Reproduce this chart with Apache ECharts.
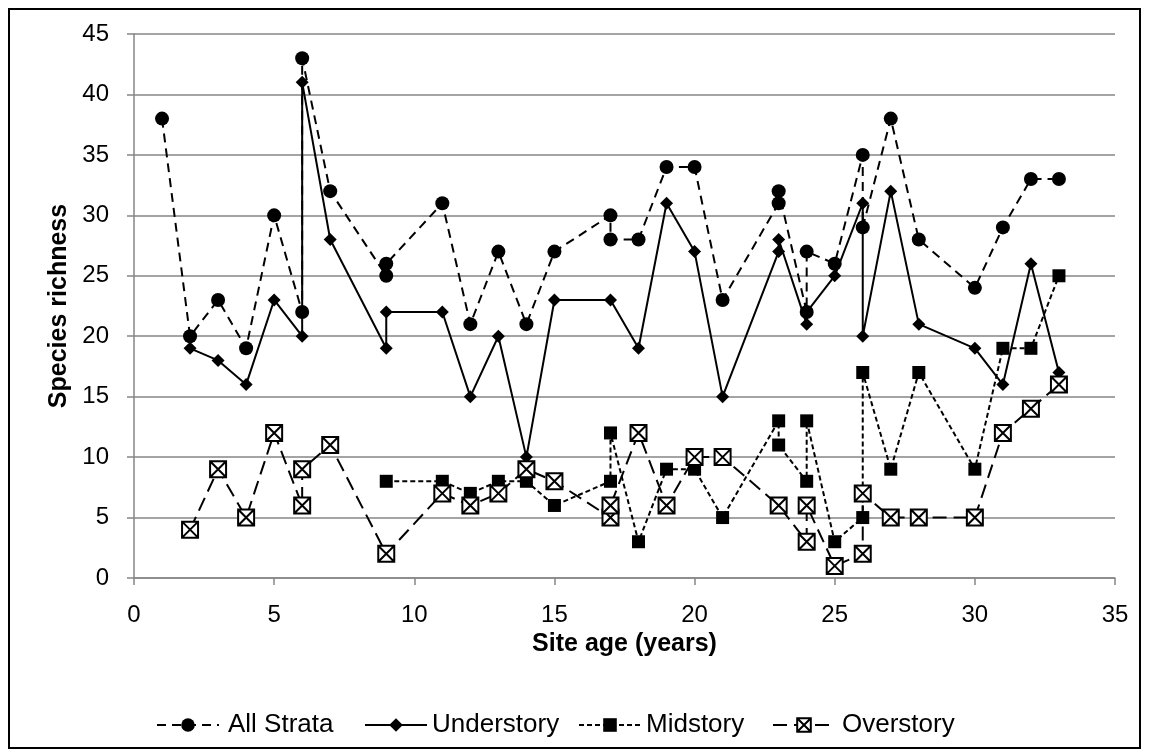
<!DOCTYPE html>
<html>
<head>
<meta charset="utf-8">
<script src="https://cdn.jsdelivr.net/npm/echarts@6/dist/echarts.min.js"></script>
<style>
html,body{margin:0;padding:0;background:#fff;}
#chart{width:1149px;height:756px;}
</style>
</head>
<body>
<div id="chart"></div>
<script>
// ---- data ----
const xTicks = [0, 5, 10, 15, 20, 25, 30, 35];
const yTicks = [0, 5, 10, 15, 20, 25, 30, 35, 40, 45];

const allStrataX = [1,2,3,4,5,6,6,7,9,9,11,12,13,14,15,17,17,18,19,20,21,23,23,24,24,25,26,26,27,28,30,31,32,33];
const allStrataY = [38,20,23,19,30,22,43,32,25,26,31,21,27,21,27,30,28,28,34,34,23,31,32,22,27,26,35,29,38,28,24,29,33,33];

const understoryX = [2,3,4,5,6,6,7,9,9,11,12,13,14,15,17,18,19,20,21,23,23,24,24,25,26,26,27,28,30,31,32,33];
const understoryY = [19,18,16,23,20,41,28,19,22,22,15,20,10,23,23,19,31,27,15,27,28,21,22,25,31,20,32,21,19,16,26,17];

const midstoryX = [9,11,12,13,14,15,17,17,18,19,20,21,23,23,24,24,25,26,26,27,28,30,31,32,33];
const midstoryY = [8,8,7,8,8,6,8,12,3,9,9,5,13,11,8,13,3,5,17,9,17,9,19,19,25];

const overstoryX = [2,3,4,5,6,6,7,9,11,12,13,14,15,17,17,18,19,20,21,23,24,24,25,26,26,27,28,30,31,32,33];
const overstoryY = [4,9,5,12,6,9,11,2,7,6,7,9,8,5,6,12,6,10,10,6,3,6,1,2,7,5,5,5,12,14,16];

const seriesNames = ['All Strata', 'Understory', 'Midstory', 'Overstory'];

function zip(xs, ys) { return xs.map((x, i) => [x, ys[i]]); }

const FONT = '"Liberation Sans", Arial, sans-serif';
const boxX = 'path://M0,0 L10,0 L10,10 L0,10 Z M0,0 L10,10 M10,0 L0,10';

const chart = echarts.init(document.getElementById('chart'), null, {renderer: 'canvas'});

function legendAt(name, left, pad) {
  return {
    data: [name],
    left: left,
    top: 707,
    itemWidth: 62,
    itemHeight: 17,
    selectedMode: false,
    textStyle: {fontFamily: FONT, fontSize: 26, color: '#000', padding: [0, 0, 0, pad]}
  };
}

const option = {
  backgroundColor: '#fff',
  animation: false,
  textStyle: {fontFamily: FONT},
  graphic: [{
    type: 'rect',
    shape: {x: 9, y: 9, width: 1131, height: 739},
    style: {fill: 'none', stroke: '#000', lineWidth: 2},
    silent: true
  }],
  grid: {left: 134, right: 34, top: 34, bottom: 178, containLabel: false},
  legend: [
    legendAt(seriesNames[0], 151, 4),
    legendAt(seriesNames[1], 359, 0),
    legendAt(seriesNames[2], 573, 0),
    legendAt(seriesNames[3], 767, 2)
  ],
  xAxis: {
    type: 'value',
    min: xTicks[0],
    max: xTicks[xTicks.length - 1],
    interval: 5,
    name: 'Site age (years)',
    nameLocation: 'middle',
    nameGap: 46,
    nameTextStyle: {fontFamily: FONT, fontSize: 25, fontWeight: 'bold', color: '#000'},
    axisLine: {show: true, lineStyle: {color: '#868686', width: 1.5}},
    axisTick: {show: true, length: 7, lineStyle: {color: '#868686', width: 1.5}},
    axisLabel: {fontFamily: FONT, fontSize: 24, color: '#000', margin: 25},
    splitLine: {show: false}
  },
  yAxis: {
    type: 'value',
    min: yTicks[0],
    max: yTicks[yTicks.length - 1],
    interval: 5,
    name: 'Species richness',
    nameLocation: 'middle',
    nameGap: 62,
    nameTextStyle: {fontFamily: FONT, fontSize: 25, fontWeight: 'bold', color: '#000'},
    axisLine: {show: true, lineStyle: {color: '#868686', width: 1.5}},
    axisTick: {show: true, length: 7, lineStyle: {color: '#868686', width: 1.5}},
    axisLabel: {fontFamily: FONT, fontSize: 24, color: '#000', margin: 25},
    splitLine: {show: true, lineStyle: {color: '#868686', width: 1.5}}
  },
  series: [
    {
      name: seriesNames[0], type: 'line', data: zip(allStrataX, allStrataY),
      symbol: 'circle', symbolSize: 14,
      itemStyle: {color: '#000'},
      lineStyle: {color: '#000', width: 2, type: [9, 6]}
    },
    {
      name: seriesNames[1], type: 'line', data: zip(understoryX, understoryY),
      symbol: 'diamond', symbolSize: 13,
      itemStyle: {color: '#000'},
      lineStyle: {color: '#000', width: 2, type: 'solid'}
    },
    {
      name: seriesNames[2], type: 'line', data: zip(midstoryX, midstoryY),
      symbol: 'rect', symbolSize: 13,
      itemStyle: {color: '#000'},
      lineStyle: {color: '#000', width: 2, type: [5, 3]}
    },
    {
      name: seriesNames[3], type: 'line', data: zip(overstoryX, overstoryY),
      symbol: boxX, symbolSize: 16,
      itemStyle: {color: '#fff', borderColor: '#000', borderWidth: 2},
      lineStyle: {color: '#000', width: 2, type: [14, 7]}
    }
  ]
};
chart.setOption(option);
</script>
</body>
</html>
